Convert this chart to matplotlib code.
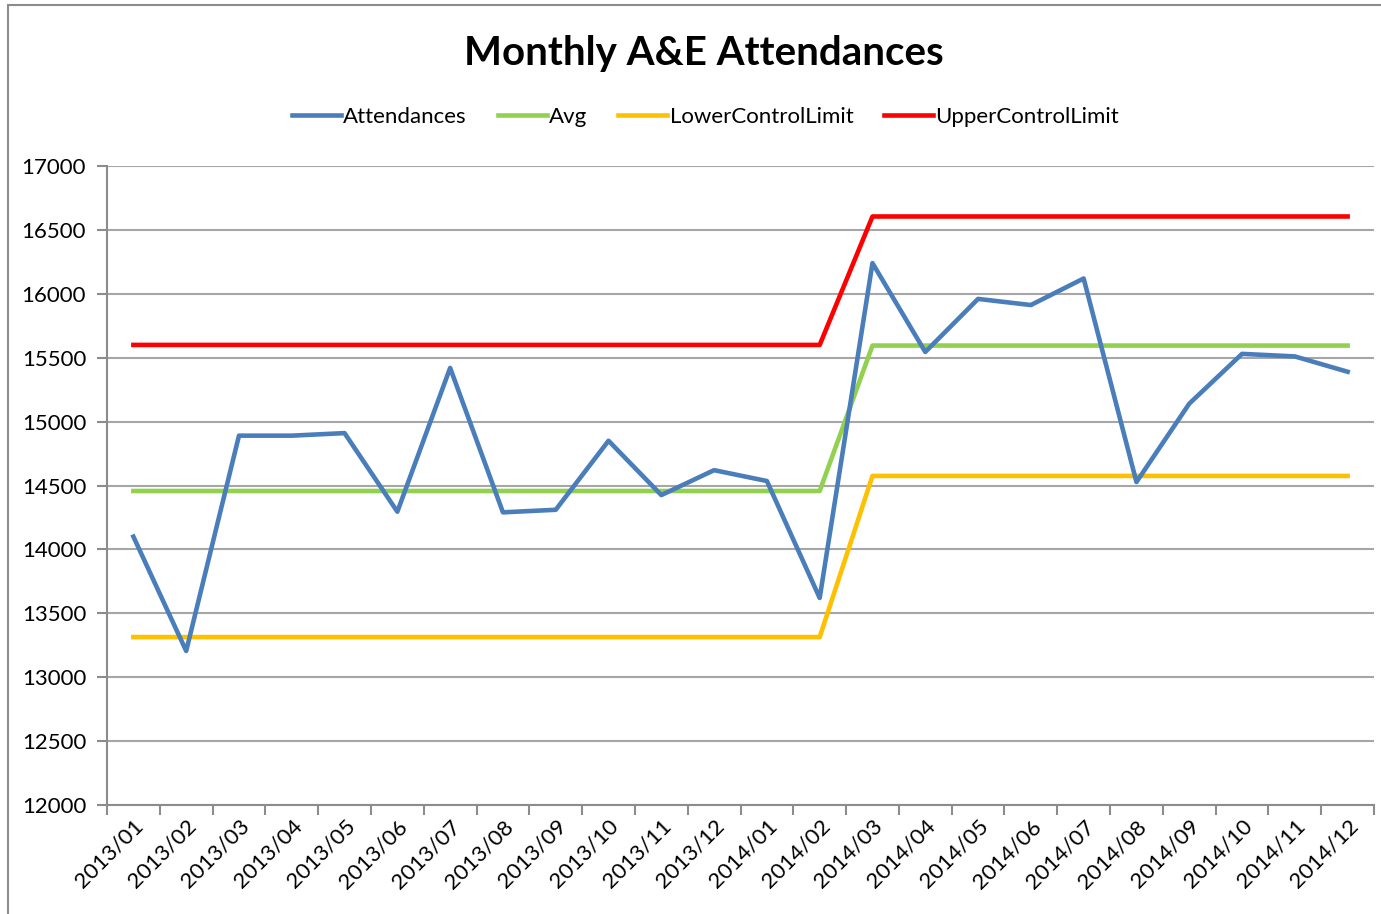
import matplotlib.pyplot as plt
from matplotlib.patches import Rectangle

months = ["2013/01", "2013/02", "2013/03", "2013/04", "2013/05", "2013/06",
          "2013/07", "2013/08", "2013/09", "2013/10", "2013/11", "2013/12",
          "2014/01", "2014/02", "2014/03", "2014/04", "2014/05", "2014/06",
          "2014/07", "2014/08", "2014/09", "2014/10", "2014/11", "2014/12"]

attendances = [14100, 13205, 14890, 14890, 14910, 14295, 15420, 14290, 14310,
               14850, 14425, 14620, 14535, 13620, 16240, 15545, 15960, 15912,
               16120, 14527, 15140, 15530, 15510, 15390]
avg = [14457] * 14 + [15595] * 10
lower_limit = [13314] * 14 + [14575] * 10
upper_limit = [15600] * 14 + [16605] * 10

plt.rcParams['font.family'] = ['Lato', 'DejaVu Sans']

fig = plt.figure(figsize=(13.81, 9.14), dpi=100)
ax = fig.add_axes([107 / 1381, 1 - 805 / 914, (1374 - 107) / 1381, (805 - 166) / 914])

# chart frame (top and left edges visible)
fig.patches.append(Rectangle((8 / 1381, -0.1), 1.2, 1 - 5 / 914 + 0.1,
                             transform=fig.transFigure, fill=False,
                             edgecolor='#8c8c8c', lw=1.5))

x = range(len(months))
lw = 3.3
ax.plot(x, attendances, color='#4A7EBB', lw=lw, label='Attendances', zorder=5)
ax.plot(x, avg, color='#92D050', lw=lw, label='Avg', zorder=4)
ax.plot(x, lower_limit, color='#FFC000', lw=lw, label='LowerControlLimit', zorder=4)
ax.plot(x, upper_limit, color='#FF0000', lw=lw, label='UpperControlLimit', zorder=4)

ax.set_xlim(-0.5, len(months) - 0.5)
ax.set_ylim(12000, 17000)
ax.set_yticks(range(12000, 17001, 500))
ax.yaxis.grid(True, color='#a6a6a6', lw=1.5)
ax.set_axisbelow(True)

ax.set_xticks(x)
ax.set_xticklabels(months, rotation=45, ha='right', va='top',
                   rotation_mode='anchor', fontsize=16)
ax.tick_params(axis='x', which='major', length=0, pad=8)
ax.set_xticks([i - 0.5 for i in range(len(months) + 1)], minor=True)
ax.tick_params(axis='x', which='minor', length=7, width=1.5, color='#8c8c8c')
ax.tick_params(axis='y', length=7, width=1.5, color='#8c8c8c', labelsize=16, pad=8)

for s in ['top', 'right']:
    ax.spines[s].set_visible(False)
for s in ['left', 'bottom']:
    ax.spines[s].set_color('#8c8c8c')
    ax.spines[s].set_linewidth(1.5)

fig.text(0.51, 1 - 53 / 914, 'Monthly A&E Attendances', ha='center', va='center',
         fontsize=29, fontweight='bold')
fig.legend(loc='center', bbox_to_anchor=(0.511, 1 - 117 / 914), ncol=4,
           frameon=False, fontsize=16, handlelength=2.2, handletextpad=0.1,
           columnspacing=1.4)

fig.savefig('out.png', dpi=100)
